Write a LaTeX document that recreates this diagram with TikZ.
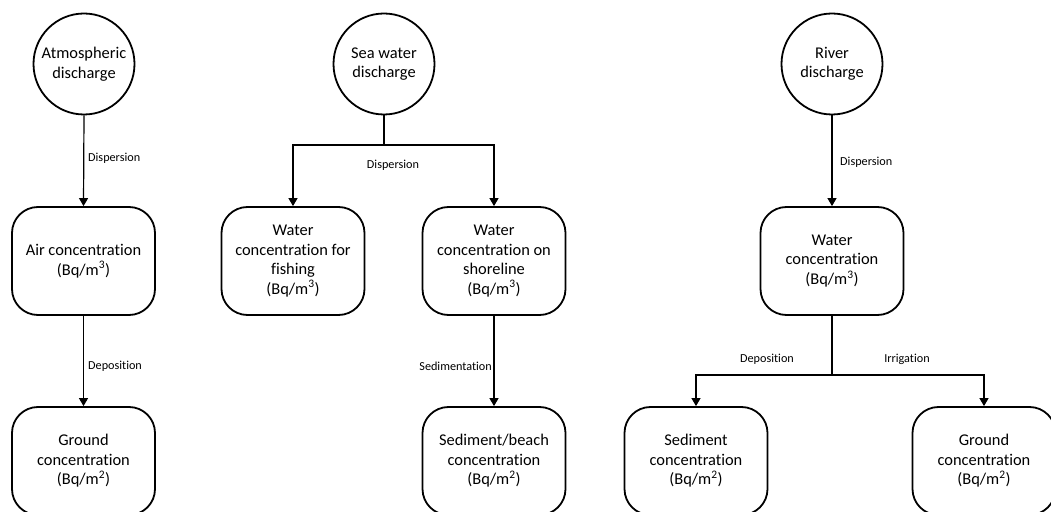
\documentclass[tikz,border=0pt]{standalone}
\usepackage{fontspec}
\setmainfont{Carlito}[Ligatures=NoCommon]
\usetikzlibrary{arrows.meta}
\begin{document}
\begin{tikzpicture}[x=1bp,y=-1bp,
  source/.style={circle,draw,line width=1.8bp,minimum size=101bp,inner sep=0pt,
    align=center,font=\fontsize{16.4bp}{19.5bp}\selectfont},
  stage/.style={rectangle,rounded corners=26bp,draw,line width=1.8bp,minimum width=143bp,
    minimum height=108bp,inner sep=0pt,align=center,font=\fontsize{16.4bp}{19.5bp}\selectfont},
  link/.style={line width=1.2bp,-{Triangle[length=8bp,width=9bp]}},
  trunk/.style={line width=1.2bp},
  lbl/.style={inner sep=0pt,font=\fontsize{12.2bp}{14bp}\selectfont}]
\useasboundingbox (0,0) rectangle (1051,512);

% atmospheric pathway
\node[source] (c1) at (84,64) {Atmospheric\\discharge};
\node[stage] (b1) at (83.5,261) {Air concentration\\(Bq/m\textsuperscript{3})};
\node[stage] (b2) at (83.5,461) {Ground\\concentration\\(Bq/m\textsuperscript{2})};
\draw[link] (c1.south) -- (b1.north);
\draw[link] (b1.south) -- (b2.north);
\node[lbl,anchor=west] (l1) at (88,158) {Dispersion};
\node[lbl,anchor=west] (l2) at (88,366) {Deposition};

% sea water pathway
\node[source] (c2) at (384,64) {Sea water\\discharge};
\node[stage] (b3) at (293,261) {Water\\concentration for\\fishing\\(Bq/m\textsuperscript{3})};
\node[stage] (b4) at (494,261) {Water\\concentration on\\shoreline\\(Bq/m\textsuperscript{3})};
\node[stage] (b5) at (494,461) {Sediment/beach\\concentration\\(Bq/m\textsuperscript{2})};
\coordinate (j2) at (384,145);
\draw[trunk] (c2.south) -- (j2);
\draw[link] (j2) -| (b3.north);
\draw[link] (j2) -| (b4.north);
\draw[link] (b4.south) -- (b5.north);
\node[lbl] (l3) at (393,165) {Dispersion};
\node[lbl,anchor=east] (l4) at (492,366) {Sedimentation};

% river pathway
\node[source] (c3) at (832,64) {River\\discharge};
\node[stage] (b6) at (832,261) {Water\\concentration\\(Bq/m\textsuperscript{3})};
\node[stage] (b7) at (696,461) {Sediment\\concentration\\(Bq/m\textsuperscript{2})};
\node[stage] (b8) at (984,461) {Ground\\concentration\\(Bq/m\textsuperscript{2})};
\coordinate (j3) at (832,375);
\draw[link] (c3.south) -- (b6.north);
\draw[trunk] (b6.south) -- (j3);
\draw[link] (j3) -| (b7.north);
\draw[link] (j3) -| (b8.north);
\node[lbl,anchor=west] (l5) at (840,162) {Dispersion};
\node[lbl] (l6) at (767,359) {Deposition};
\node[lbl] (l7) at (907,359) {Irrigation};
\end{tikzpicture}
\end{document}
